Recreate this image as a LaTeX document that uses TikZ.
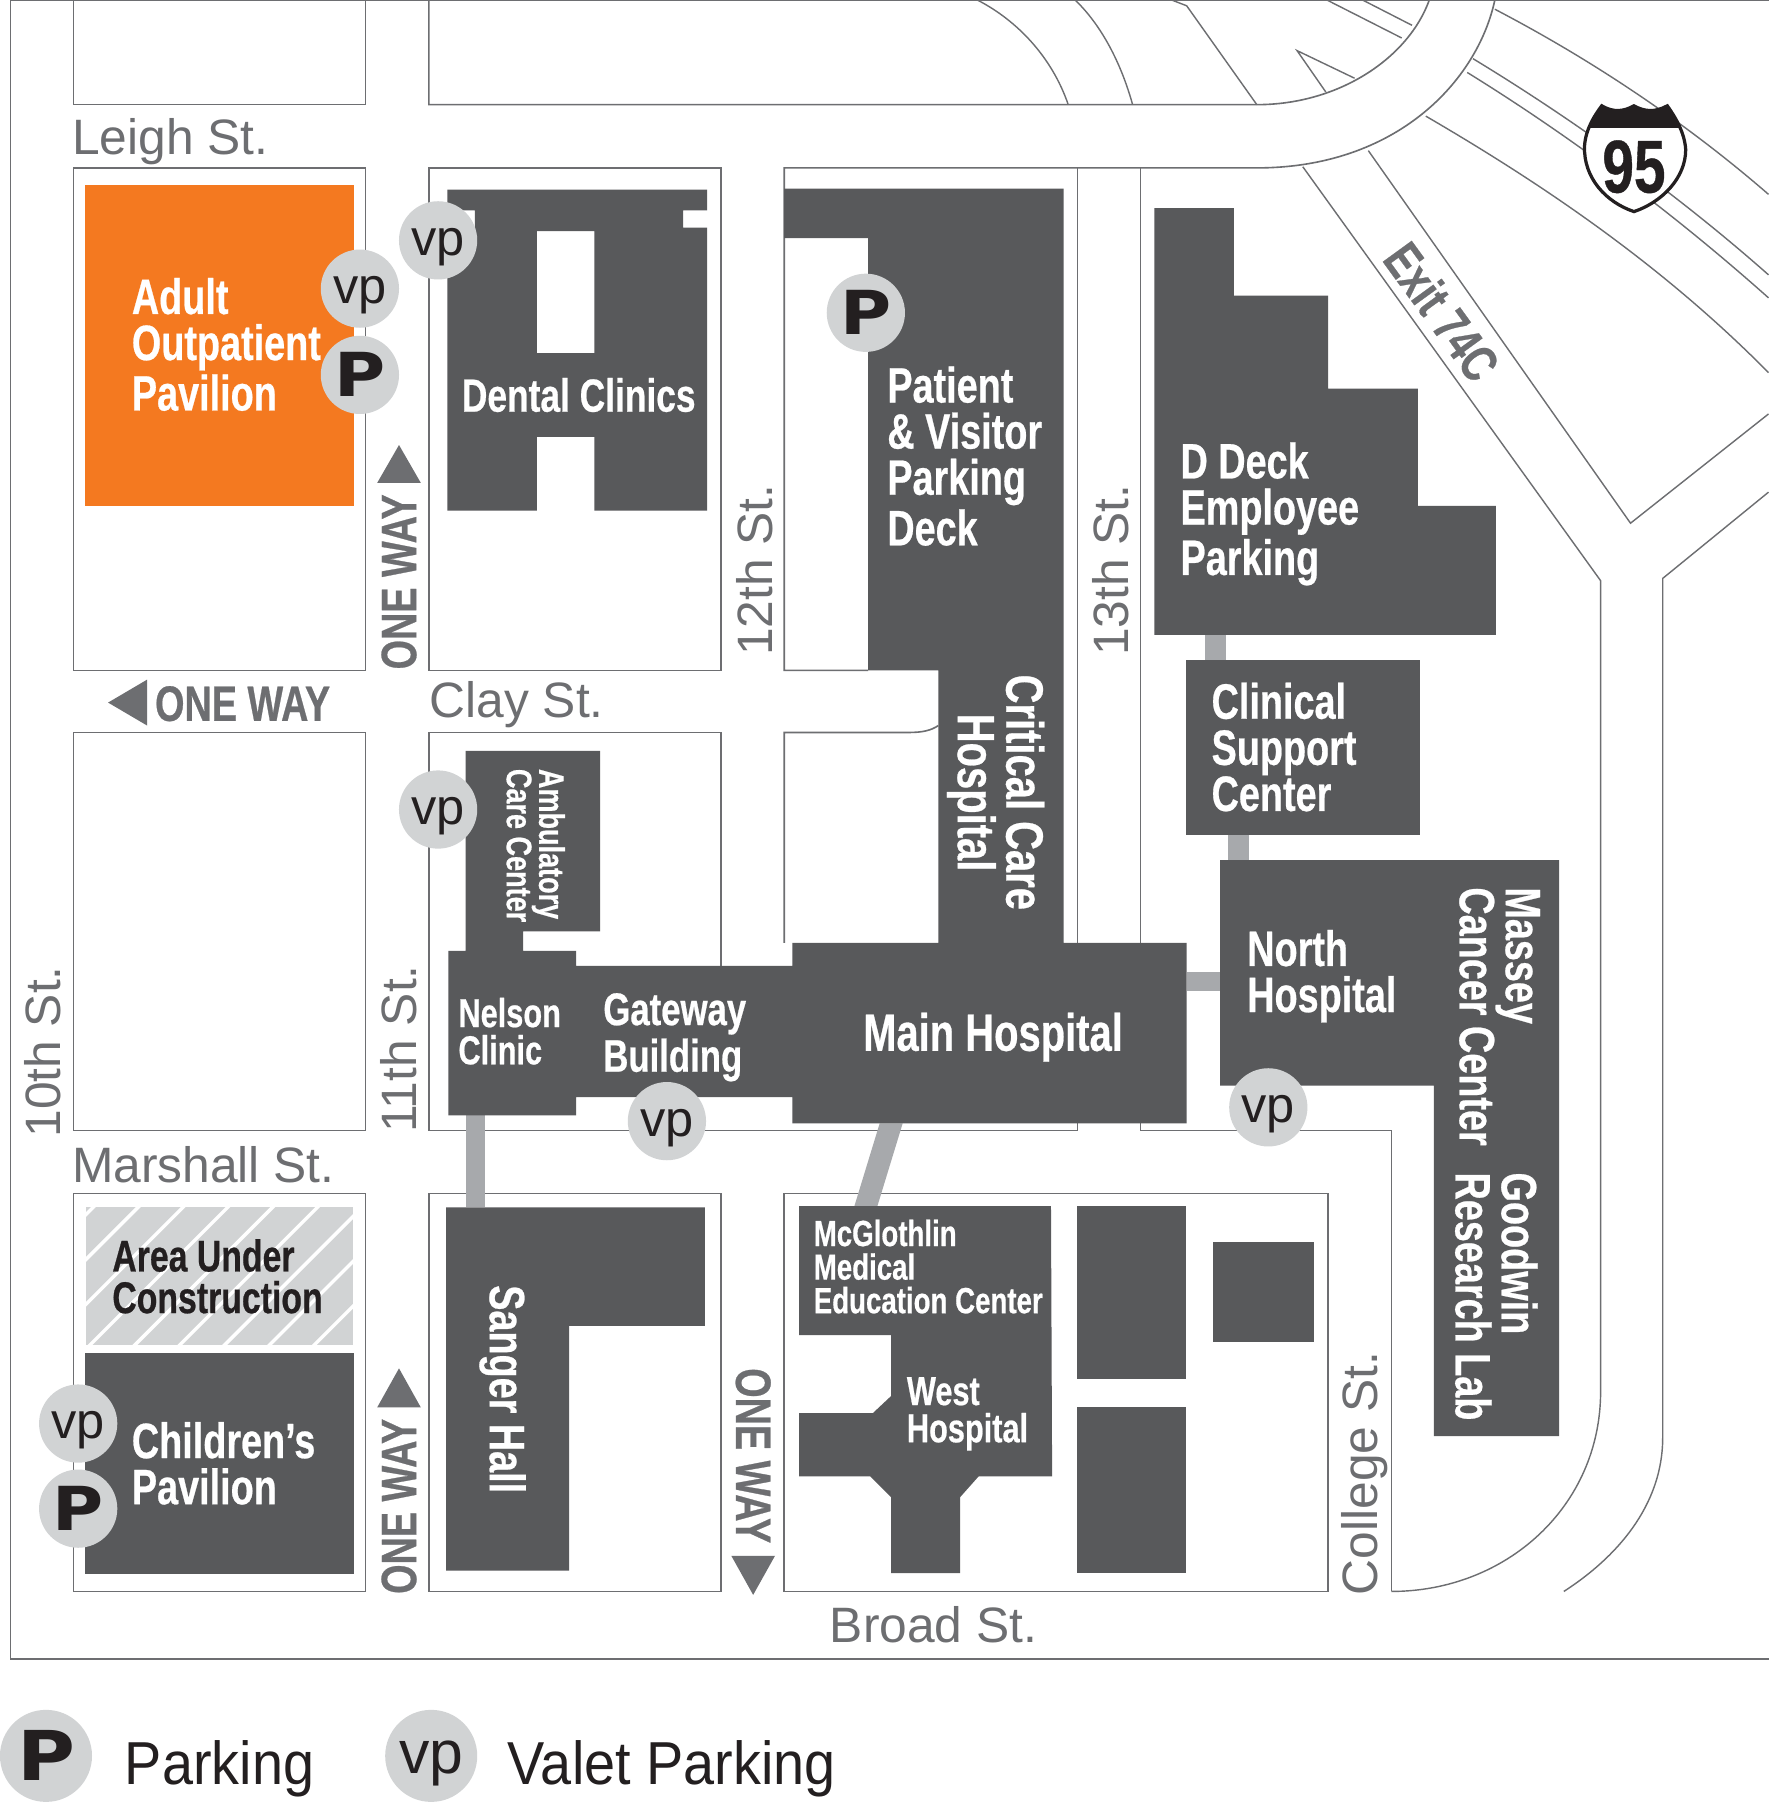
\documentclass[tikz,border=0pt]{standalone}
\usepackage{fontspec}
\setmainfont{Liberation Sans}
\newfontfamily\narrowfont[FakeStretch=0.76,FakeBold=0.5]{Liberation Sans Bold}
\newfontfamily\blackfont[FakeStretch=1.15]{DejaVu Sans Bold}
\newfontfamily\legendfont[FakeStretch=0.92]{Liberation Sans}
\usetikzlibrary{positioning}
\definecolor{bldg}{HTML}{58595B}
\definecolor{orangebldg}{HTML}{F47920}
\definecolor{roadline}{HTML}{6D6E71}
\definecolor{marker}{HTML}{D1D3D4}
\definecolor{link}{HTML}{A7A9AC}
\definecolor{inkblack}{HTML}{231F20}
\tikzset{
  block/.style={draw=roadline, line width=0.4pt},
  road/.style={draw=roadline, line width=0.35pt},
  bldgfill/.style={fill=bldg},
  linkfill/.style={fill=link},
  bigname/.style={text=white, font=\narrowfont\fontsize{12.3}{11.4}\selectfont, align=left, inner sep=0pt, anchor=north west},
  smallname/.style={text=white, font=\narrowfont\fontsize{10}{9.2}\selectfont, align=left, inner sep=0pt, anchor=north west},
  street/.style={text=roadline, font=\fontsize{12.3}{14}\selectfont, inner sep=0pt},
  legendtext/.style={text=inkblack, font=\legendfont\fontsize{15}{16}\selectfont, inner sep=0pt, anchor=base west},
  oneway/.style={text=roadline, font=\narrowfont\fontsize{12.3}{12}\selectfont, inner sep=0pt},
  spot/.style={circle, fill=marker, minimum size=0.68cm, inner sep=0pt, text=inkblack},
  vp/.style={spot, font=\fontsize{12.5}{14}\selectfont, text height=9.4pt, text depth=2pt},
  park/.style={spot, font=\blackfont\fontsize{15}{16}\selectfont},
}
\begin{document}
\begin{tikzpicture}[x=0.01cm, y=-0.01cm]
  \useasboundingbox (0,0) rectangle (1538.4,1568);
  \fill[white] (0,0) rectangle (1538.4,1568);

  % frame and blocks
  \draw[block] (1538.4,0.5) -- (9,0.5) -- (9,1443) -- (1538.4,1443);
  \draw[block] (64,0) -- (64,91) -- (318,91) -- (318,0);
  \draw[block] (64,146) rectangle (318,583);
  \draw[block] (373,146) rectangle (627,583);
  \draw[block] (64,637) rectangle (318,983);
  \draw[block] (64,1038) rectangle (318,1384);
  \draw[block] (373,1038) rectangle (627,1384);
  \draw[block] (682,1038) rectangle (1155,1384);
  \draw[block] (627,840) -- (627,637) -- (373,637) -- (373,983) -- (937,983) -- (937,970);
  \draw[block] (682,820) -- (682,637) -- (790,637) .. controls (803,637) and (810,635) .. (816,631);
  \draw[block] (755,583) -- (682,583) -- (682,146) -- (1093,146)
    .. controls (1215,146) and (1285,70) .. (1300,0);
  \draw[block] (937,146) -- (937,820);
  \draw[block] (992,146) -- (992,820);
  \draw[block] (992,970) -- (992,983) -- (1210,983) -- (1210,1384);

  % upper roads
  \draw[block] (373,0) -- (373,91) -- (1093,91) .. controls (1165,91) and (1225,50) .. (1243,0);
  \draw[road] (850,0) .. controls (885,18) and (915,50) .. (929,91);
  \draw[road] (935,0) .. controls (958,22) and (975,55) .. (985,91);
  \draw[road] (1019,0) -- (1032,5) -- (1093,91);
  \draw[road] (1153,80) -- (1128,44) -- (1178,68);
  \draw[road] (1154,0) -- (1219,33);
  \draw[road] (1185,0) -- (1228,22);
  \draw[road] (1300,8) .. controls (1390,55) and (1470,110) .. (1538,169);
  \draw[road] (1281,51) .. controls (1370,105) and (1460,170) .. (1538,239);
  \draw[road] (1276,63) .. controls (1365,118) and (1455,185) .. (1538,259);
  \draw[road] (1240,101) .. controls (1350,165) and (1450,235) .. (1538,324);
  \draw[road] (1133,145) -- (1392,505) -- (1392,1210) .. controls (1392,1310) and (1310,1384) .. (1210,1384);
  \draw[road] (1190,131) -- (1418,455) -- (1538,360);
  \draw[road] (1538,428) -- (1446,503) -- (1446,1250) .. controls (1446,1310) and (1405,1355) .. (1360,1384);

  % links between buildings
  \fill[linkfill] (1048,552) rectangle (1066,574);
  \fill[linkfill] (1068,726) rectangle (1086,748);
  \fill[linkfill] (1032,845) rectangle (1061,862);
  \fill[linkfill] (405,970) rectangle (422,1050);
  \fill[linkfill] (765,977) -- (785,977) -- (763,1049) -- (743,1049) -- cycle;

  % buildings
  \fill[orangebldg] (74,161) rectangle (308,440);
  \fill[bldgfill, even odd rule] (389,165) -- (615,165) -- (615,183) -- (594,183) -- (594,198) -- (615,198) -- (615,444)
    -- (517,444) -- (517,380) -- (467,380) -- (467,444) -- (389,444) -- (389,198) -- (413,198) -- (413,183) -- (389,183) -- cycle
    (467,201) rectangle (517,307);
  \fill[bldgfill] (682,164) -- (925,164) -- (925,820) -- (1032,820) -- (1032,977) -- (689,977) -- (689,954)
    -- (501,954) -- (501,970) -- (390,970) -- (390,827) -- (405,827) -- (405,653) -- (522,653) -- (522,810)
    -- (455,810) -- (455,827) -- (501,827) -- (501,840) -- (689,840) -- (689,820) -- (816,820) -- (816,583)
    -- (755,583) -- (755,207) -- (682,207) -- cycle;
  \fill[bldgfill] (1004,181) -- (1073,181) -- (1073,257) -- (1155,257) -- (1155,338) -- (1233,338) -- (1233,440)
    -- (1301,440) -- (1301,552) -- (1004,552) -- cycle;
  \fill[bldgfill] (1031,574) rectangle (1235,726);
  \fill[bldgfill] (1061,748) -- (1356,748) -- (1356,1249) -- (1247,1249) -- (1247,944) -- (1061,944) -- cycle;
  \fill[bldgfill] (388,1050) -- (613,1050) -- (613,1153) -- (495,1153) -- (495,1366) -- (388,1366) -- cycle;
  \fill[bldgfill] (695,1049) -- (914,1049) -- (915,1284) -- (851,1284) -- (835,1302) -- (835,1368) -- (775,1368)
    -- (775,1302) -- (757,1284) -- (695,1284) -- (695,1229) -- (759,1229) -- (775,1214) -- (775,1161) -- (695,1161) -- cycle;
  \fill[bldgfill] (937,1049) rectangle (1031,1199);
  \fill[bldgfill] (1055,1080) rectangle (1143,1167);
  \fill[bldgfill] (937,1224) rectangle (1031,1368);
  \fill[bldgfill] (74,1177) rectangle (308,1369);

  % area under construction
  \begin{scope}
    \clip (75,1050) rectangle (307,1170);
    \fill[marker] (75,1050) rectangle (307,1170);
    \foreach \i in {0,...,10}
      \draw[white, line width=0.85pt] (101+39*\i,1030) -- ++(-160,160);
  \end{scope}

  % shield
  \begin{scope}
    \path[fill=white, draw=inkblack, line width=0.8pt, save path=\shieldpath]
      (1378,127) .. controls (1379,112) and (1387,100) .. (1393,92)
      .. controls (1403,98) and (1412,97) .. (1421,92)
      .. controls (1430,97) and (1439,98) .. (1450,92)
      .. controls (1457,102) and (1465,115) .. (1466,130)
      .. controls (1466,155) and (1445,176) .. (1421,184)
      .. controls (1397,176) and (1377,155) .. (1378,127) -- cycle;
    \clip (1370,85) rectangle (1475,111);
    \fill[inkblack, use path=\shieldpath];
  \end{scope}
  \node[text=inkblack, font=\narrowfont\fontsize{18.5}{18}\selectfont, inner sep=0pt] (shield) at (1421,145) {95};

  % building names
  \node[bigname] (adult) at (114,241) {Adult\\Outpatient\\Pavilion};
  \node[bigname, font=\narrowfont\fontsize{11.5}{11}\selectfont] (dental) at (401,328) {Dental Clinics};
  \node[bigname] (deck) at (771,318) {Patient\\\& Visitor\\Parking\\Deck};
  \node[bigname] (ddeck) at (1026,384) {D Deck\\Employee\\Parking};
  \node[bigname] (support) at (1053,593) {Clinical\\Support\\Center};
  \node[bigname] (north) at (1084,808) {North\\Hospital};
  \node[bigname, font=\narrowfont\fontsize{13}{12}\selectfont] (main) at (750,880) {Main Hospital};
  \node[bigname, font=\narrowfont\fontsize{11.3}{10.3}\selectfont] (gateway) at (524,863) {Gateway\\Building};
  \node[smallname] (nelson) at (398,867) {Nelson\\Clinic};
  \node[bigname] (children) at (114,1236) {Children’s\\Pavilion};
  \node[smallname, font=\narrowfont\fontsize{9}{8.3}\selectfont] (mcg) at (707,1060) {McGlothlin\\Medical\\Education Center};
  \node[smallname] (west) at (788,1197) {West\\Hospital};
  \node[bigname, text=inkblack, font=\narrowfont\fontsize{11}{10.3}\selectfont] (area) at (97,1077) {Area Under\\Construction};
  \node[bigname, rotate=-90, anchor=north west, font=\narrowfont\fontsize{13}{12}\selectfont] (critical) at (909,586) {Critical Care\\\hspace*{0.34cm}Hospital};
  \node[bigname, rotate=-90, anchor=north west] (massey) at (1340,771) {Massey\\Cancer Center};
  \node[bigname, rotate=-90, anchor=north west] (goodwin) at (1338,1019) {Goodwin\\Research Lab};
  \node[bigname, rotate=-90, anchor=north west] (sanger) at (458,1117) {Sanger Hall};
  \node[smallname, rotate=-90, anchor=north west, font=\narrowfont\fontsize{8.8}{8}\selectfont] (ambulatory) at (492,668) {Ambulatory\\Care Center};

  % streets
  \node[street, anchor=base west] (leigh) at (62,134) {Leigh St.};
  \node[street, anchor=base west] (clay) at (373,624) {Clay St.};
  \node[street, anchor=base west] (marshall) at (62,1028) {Marshall St.};
  \node[street, anchor=base west] (broad) at (721,1428) {Broad St.};
  \node[street, rotate=90, anchor=base west] (tenth) at (53,990) {10th St.};
  \node[street, rotate=90, anchor=base west] (eleventh) at (362,986) {11th St.};
  \node[street, rotate=90, anchor=base west] (twelfth) at (672,571) {12th St.};
  \node[street, rotate=90, anchor=base west] (thirteenth) at (981,571) {13th St.};
  \node[street, rotate=90, anchor=base west] (college) at (1198,1388) {College St.};
  \node[oneway, rotate=-54, font=\narrowfont\fontsize{12.8}{12}\selectfont] (exit) at (1254,271) {Exit 74C};

  % one way signs
  \fill[roadline] (347,387) -- (366,420) -- (328,420) -- cycle;
  \fill[roadline] (347,1190) -- (366,1224) -- (328,1224) -- cycle;
  \fill[roadline] (655,1387) -- (674,1353) -- (636,1353) -- cycle;
  \fill[roadline] (94,611) -- (128,591) -- (128,631) -- cycle;
  \node[oneway, rotate=90] (onea) at (347,506) {ONE WAY};
  \node[oneway, rotate=90] (oneb) at (347,1310) {ONE WAY};
  \node[oneway, rotate=-90] (onec) at (655,1266) {ONE WAY};
  \node[oneway] (oned) at (211,612) {ONE WAY};

  % parking spots
  \node[vp] (vpa) at (381,209) {vp};
  \node[vp] (vpb) at (313,251) {vp};
  \node[park] (pa) at (313,326) {P};
  \node[park] (pb) at (753,272) {P};
  \node[vp] (vpc) at (381,704) {vp};
  \node[vp] (vpd) at (580,975) {vp};
  \node[vp] (vpe) at (1103,963) {vp};
  \node[vp] (vpf) at (68,1238) {vp};
  \node[park] (pc) at (68,1312) {P};

  % legend
  \node[park, minimum size=0.8cm, font=\blackfont\fontsize{17}{18}\selectfont] (legp) at (40,1527) {P};
  \node[legendtext] (legpark) at (108,1552) {Parking};
  \node[vp, minimum size=0.8cm, font=\fontsize{15}{16}\selectfont, text height=10.8pt] (legvp) at (375,1527) {vp};
  \node[legendtext] (legvalet) at (441,1552) {Valet Parking};
\end{tikzpicture}
\end{document}
